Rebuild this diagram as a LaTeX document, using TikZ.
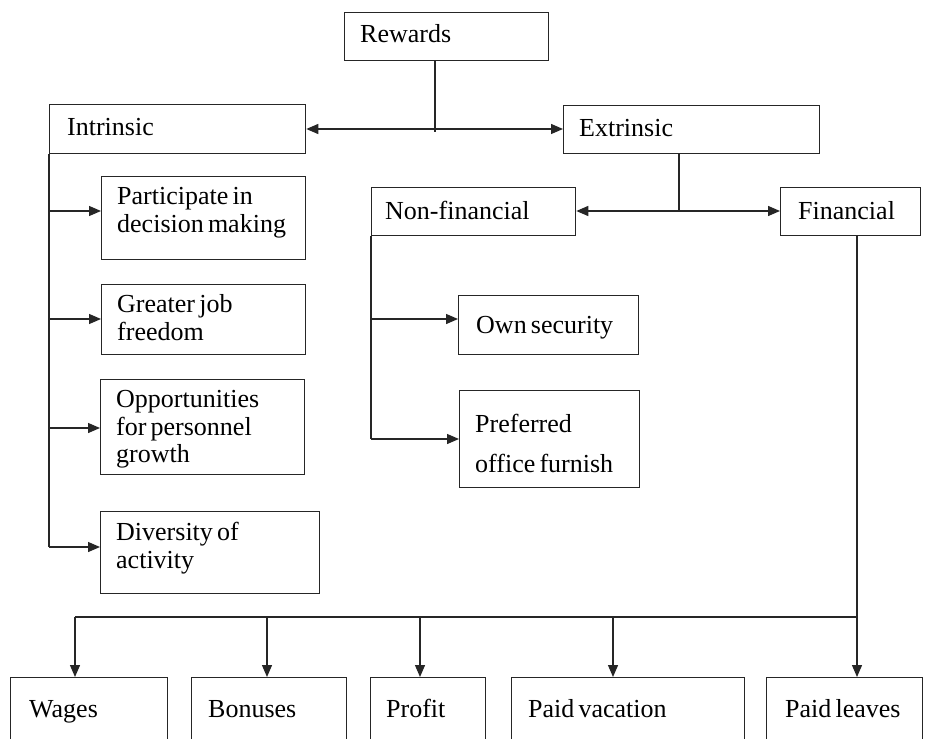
\documentclass[tikz,border=0pt]{standalone}
\usepackage{fontspec}
\setmainfont{Liberation Serif}
\usetikzlibrary{arrows.meta}
\newcommand{\mytxtfont}{\fontsize{26}{28}\selectfont\spaceskip=0.16em plus 0.05em\relax}
\begin{document}
\begin{tikzpicture}[x=1pt,y=-1pt,
  box/.style={draw=black!85,line width=1.3pt,rectangle,inner sep=0pt,anchor=north west},
  txt/.style={anchor=base west,inner sep=0pt,font=\mytxtfont},
  con/.style={draw=black!85,line width=1.3pt},
  arr/.style={con,-{Triangle[length=12pt,width=10pt]}},
  darr/.style={con,{Triangle[length=12pt,width=10pt]}-{Triangle[length=12pt,width=10pt]}}]
\useasboundingbox (0,0) rectangle (925,738);
\clip (0,0) rectangle (925,738);
\fill[white] (0,0) rectangle (925,738);
% boxes
\node[box,minimum width=204,minimum height=48] (rew) at (344,12) {};
\node[box,minimum width=256,minimum height=49] (intr) at (49,104) {};
\node[box,minimum width=256,minimum height=48] (extr) at (563,105) {};
\node[box,minimum width=204,minimum height=48] (nonf) at (371,187) {};
\node[box,minimum width=140,minimum height=48] (fin) at (780,187) {};
\node[box,minimum width=204,minimum height=83] (part) at (101,176) {};
\node[box,minimum width=204,minimum height=70] (job) at (101,284) {};
\node[box,minimum width=204,minimum height=95] (opp) at (100,379) {};
\node[box,minimum width=219,minimum height=82] (div) at (100,511) {};
\node[box,minimum width=180,minimum height=59] (own) at (458,295) {};
\node[box,minimum width=180,minimum height=97] (pref) at (459,390) {};
\node[box,minimum width=157,minimum height=90] (wag) at (10,677) {};
\node[box,minimum width=155,minimum height=90] (bon) at (191,677) {};
\node[box,minimum width=115,minimum height=90] (pro) at (370,677) {};
\node[box,minimum width=233,minimum height=90] (vac) at (511,677) {};
\node[box,minimum width=156,minimum height=90] (lea) at (766,677) {};
% texts
\node[txt] (rewT) at (360,43) {Rewards};
\node[txt] (intrT) at (67,136) {Intrinsic};
\node[txt] (extrT) at (579,137) {Extrinsic};
\node[txt] (nonfT) at (385,219) {Non-financial};
\node[txt] (finT) at (798,219) {Financial};
\node[txt] (partT1) at (117,204) {Participate in};
\node[txt] (partT2) at (117,232) {decision making};
\node[txt] (jobT1) at (117,312) {Greater job};
\node[txt] (jobT2) at (117,340) {freedom};
\node[txt] (oppT1) at (116,407) {Opportunities};
\node[txt] (oppT2) at (116,435) {for personnel};
\node[txt] (oppT3) at (116,462) {growth};
\node[txt] (divT1) at (116,540) {Diversity of};
\node[txt] (divT2) at (116,568) {activity};
\node[txt] (ownT) at (476,333) {Own security};
\node[txt] (prefT1) at (475,432) {Preferred};
\node[txt] (prefT2) at (475,472) {office furnish};
\node[txt] (wagT) at (29,717) {Wages};
\node[txt] (bonT) at (208,717) {Bonuses};
\node[txt] (proT) at (386,717) {Profit};
\node[txt] (vacT) at (528,717) {Paid vacation};
\node[txt] (leaT) at (785,717) {Paid leaves};
% connectors: rewards
\coordinate (rj) at (435,129);
\draw[con] (rew.south -| rj) -- ([yshift=-3]rj);
\draw[darr] (intr.east |- rj) -- (extr.west |- rj);
% extrinsic
\coordinate (ej) at (679,211);
\draw[con] (extr.south -| ej) -- (ej);
\draw[darr] (nonf.east |- ej) -- (fin.west |- ej);
% intrinsic branch
\coordinate (i1) at (49,211);
\coordinate (i2) at (49,319);
\coordinate (i3) at (49,428);
\coordinate (i4) at (49,547);
\draw[con] (intr.south west) -- (i4);
\draw[arr] (i1) -- (part.west |- i1);
\draw[arr] (i2) -- (job.west |- i2);
\draw[arr] (i3) -- (opp.west |- i3);
\draw[arr] (i4) -- (div.west |- i4);
% non-financial branch
\coordinate (n1) at (371,319);
\coordinate (n2) at (371,439);
\draw[con] (nonf.south west) -- (n2);
\draw[arr] (n1) -- (own.west |- n1);
\draw[arr] (n2) -- (pref.west |- n2);
% financial branch
\coordinate (fj) at (857,617);
\coordinate (b1) at (75,617);
\coordinate (b2) at (267,617);
\coordinate (b3) at (420,617);
\coordinate (b4) at (613,617);
\draw[con] (fin.south -| fj) -- (fj) -- (b1);
\draw[arr] (b1) -- (wag.north -| b1);
\draw[arr] (b2) -- (bon.north -| b2);
\draw[arr] (b3) -- (pro.north -| b3);
\draw[arr] (b4) -- (vac.north -| b4);
\draw[arr] (fj) -- (lea.north -| fj);
\end{tikzpicture}
\end{document}
